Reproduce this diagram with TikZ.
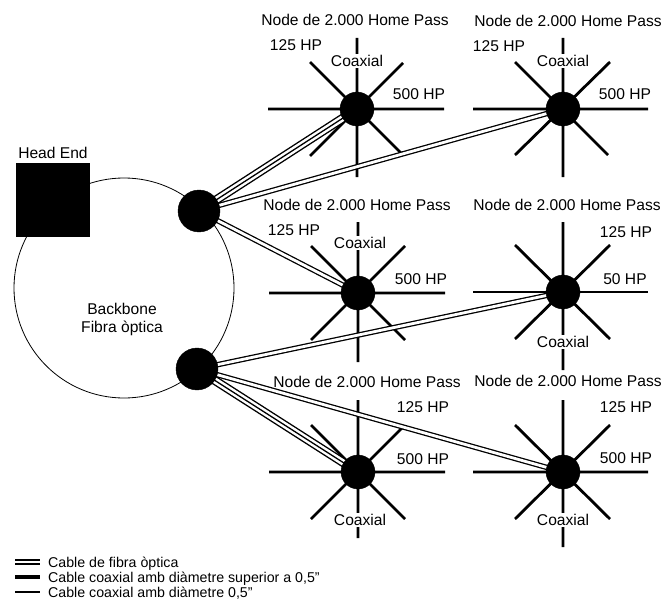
\documentclass[tikz,border=0pt]{standalone}
\usepackage{fontspec}
\setmainfont{Liberation Sans}
\usetikzlibrary{backgrounds}

\tikzset{
  hub/.style={circle, fill=black, draw=black, minimum size=42pt, inner sep=0pt},
  star/.style={circle, fill=black, draw=black, minimum size=34pt, inner sep=0pt},
  spoke/.style={line width=2.8pt},
  thinspoke/.style={line width=1.3pt},
  fibre/.style={double, double distance=2.8pt, line width=1.3pt},
  fibretwo/.style={line width=1.3pt, preaction={draw=black, line width=9pt},
    preaction={draw=white, line width=6.2pt}},
  lbl/.style={inner sep=1pt},
  coax/.style={inner sep=1pt, fill=white},
  key/.style={inner sep=1pt, anchor=base west, font=\fontsize{14.2}{16}\selectfont},
}

\begin{document}
\begin{tikzpicture}[x=1pt, y=-1pt, font=\fontsize{15.6}{18}\selectfont]
      \useasboundingbox (0,0) rectangle (665,602);
      % backbone and head end
      \node[draw, circle, minimum size=220pt, inner sep=0pt, line width=0.8pt] (bb) at (124,288) {};
      \node[align=center] (bbl) at (122,319) {Backbone\\Fibra òptica};
      \node[fill=black, minimum size=74pt, inner sep=0pt] (he) at (53,200) {};
      \node[lbl] (hel) at (53,153) {Head End};
      % distribution points
      \node[hub] (h1) at (199,211) {};
      \node[hub] (h2) at (197,369) {};
      % nodes
      \node[star] (n1) at (357,109) {};
      \node[star] (n2) at (563,109) {};
      \node[star] (n3) at (358,293) {};
      \node[star] (n4) at (563,292) {};
      \node[star] (n5) at (358,472) {};
      \node[star] (n6) at (563,472) {};
      \begin{scope}[on background layer]
        \draw[spoke] (n1.center) ++(-89,0) -- ++(176,0)
          (n1.center) ++(0,-71) -- ++(0,139)
          (n1.center) ++(-47,-47) -- ++(93,93)
          (n1.center) ++(46,-46) -- ++(-93,93);
        \draw[spoke] (n2.center) ++(-90,0) -- ++(175,0)
          (n2.center) ++(0,-71) -- ++(0,139)
          (n2.center) ++(-48,-47) -- ++(93,93)
          (n2.center) ++(47,-47) -- ++(-95,93);
        \draw[spoke] (n3.center) ++(-89,0) -- ++(176,0)
          (n3.center) ++(0,-71) -- ++(0,140)
          (n3.center) ++(-47,-47) -- ++(94,94)
          (n3.center) ++(47,-47) -- ++(-94,94);
        \draw[thinspoke] (n4.center) ++(-90,0) -- ++(175,0);
        \draw[spoke] (n4.center) ++(0,-70) -- ++(0,148)
          (n4.center) ++(-48,-47) -- ++(95,94)
          (n4.center) ++(47,-47) -- ++(-95,94);
        \draw[spoke] (n5.center) ++(-89,0) -- ++(176,0)
          (n5.center) ++(0,-72) -- ++(0,138)
          (n5.center) ++(-47,-47) -- ++(94,94)
          (n5.center) ++(46,-46) -- ++(-93,93);
        \draw[spoke] (n6.center) ++(-90,0) -- ++(175,0)
          (n6.center) ++(0,-72) -- ++(0,147)
          (n6.center) ++(-48,-47) -- ++(95,94)
          (n6.center) ++(47,-47) -- ++(-95,94);
        % fibre links
        \draw[fibretwo] (h1.center) -- (n1.center);
        \draw[fibre] (h1.center) -- (n2.center);
        \draw[fibre] (h1.center) -- (n3.center);
        \draw[fibre] (h2.center) -- (n4.center);
        \draw[fibretwo] (h2.center) -- (n5.center);
        \draw[fibre] (h2.center) -- (n6.center);
      \end{scope}
      % labels
      \node[lbl] (t1) at (355,20) {Node de 2.000 Home Pass};
      \node[lbl] (a1) at (296,45) {125 HP};
      \node[coax] (c1) at (357,61) {Coaxial};
      \node[lbl] (b1) at (419,94) {500 HP};
      \node[lbl] (t2) at (568,21) {Node de 2.000 Home Pass};
      \node[lbl] (a2) at (499,46) {125 HP};
      \node[coax] (c2) at (563,61) {Coaxial};
      \node[lbl] (b2) at (625,94) {500 HP};
      \node[lbl] (t3) at (357,205) {Node de 2.000 Home Pass};
      \node[lbl] (a3) at (294,230) {125 HP};
      \node[coax] (c3) at (360,243) {Coaxial};
      \node[lbl] (b3) at (421,279) {500 HP};
      \node[lbl] (t4) at (567,205) {Node de 2.000 Home Pass};
      \node[lbl] (a4) at (626,232) {125 HP};
      \node[lbl] (b4) at (625,279) {50 HP};
      \node[coax] (c4) at (563,342) {Coaxial};
      \node[lbl] (t5) at (367,382) {Node de 2.000 Home Pass};
      \node[lbl] (a5) at (423,407) {125 HP};
      \node[lbl] (b5) at (423,459) {500 HP};
      \node[coax] (c5) at (360,520) {Coaxial};
      \node[lbl] (t6) at (568,381) {Node de 2.000 Home Pass};
      \node[lbl] (a6) at (626,407) {125 HP};
      \node[lbl] (b6) at (626,458) {500 HP};
      \node[coax] (c6) at (563,520) {Coaxial};
      % legend
      \coordinate (k1a) at (15,562);
      \coordinate (k1b) at (40,562);
      \coordinate (k2a) at (15,577);
      \coordinate (k2b) at (40,577);
      \coordinate (k3a) at (15,592);
      \coordinate (k3b) at (40,592);
      \draw[fibre] (k1a) -- (k1b);
      \draw[spoke, line width=3.4pt] (k2a) -- (k2b);
      \draw[thinspoke] (k3a) -- (k3b);
      \node[key] (k1) at (47,567) {Cable de fibra òptica};
      \node[key] (k2) at (47,582) {Cable coaxial amb diàmetre superior a 0,5”};
      \node[key] (k3) at (47,597) {Cable coaxial amb diàmetre 0,5”};
    \end{tikzpicture}
\end{document}
